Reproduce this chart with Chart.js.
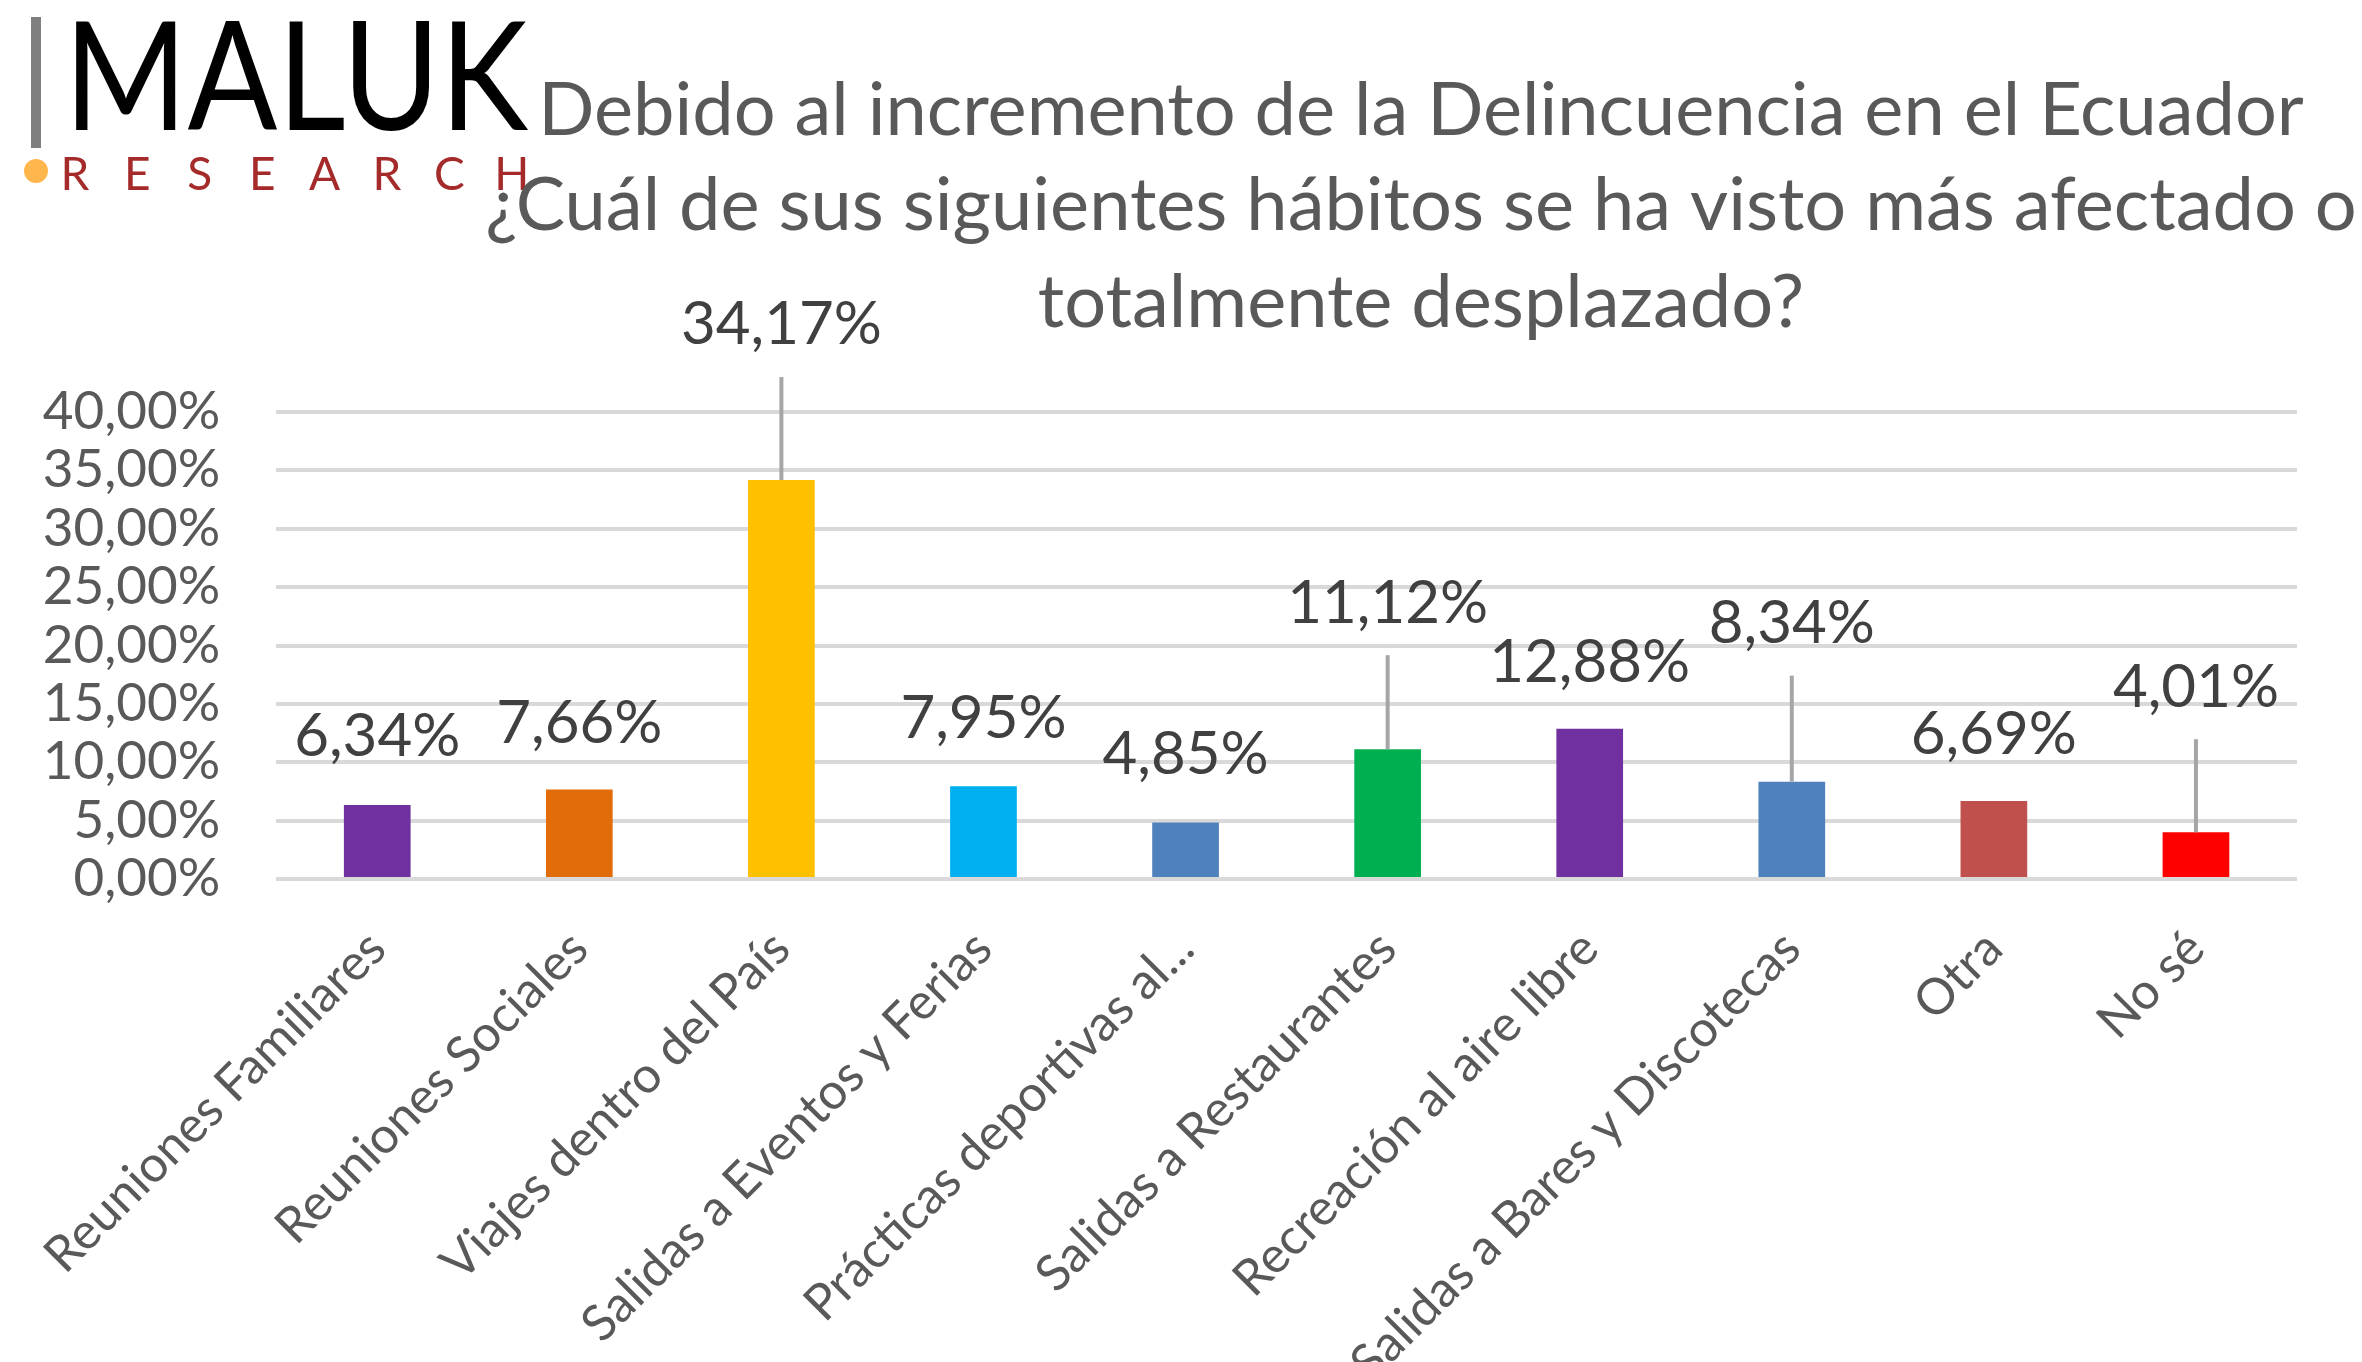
<!DOCTYPE html>
<html>
<head>
<meta charset="utf-8">
<script src="https://cdn.jsdelivr.net/npm/chart.js@4/dist/chart.umd.min.js"></script>
<style>
  html, body { margin: 0; padding: 0; background: #ffffff; }
  #wrap { width: 2362px; height: 1362px; position: relative; }
</style>
</head>
<body>
<div id="wrap"><canvas id="chart1" width="2362" height="1362"></canvas></div>
<script>
// categories and values
var categories = [
    "Reuniones Familiares",
    "Reuniones Sociales",
    "Viajes dentro del País",
    "Salidas a Eventos y Ferias",
    "Prácticas deportivas al...",
    "Salidas a Restaurantes",
    "Recreación al aire libre",
    "Salidas a Bares y Discotecas",
    "Otra",
    "No sé"
];
var values = [6.34, 7.66, 34.17, 7.95, 4.85, 11.12, 12.88, 8.34, 6.69, 4.01];
var barColors = ["#7030A0", "#E36C0A", "#FFC000", "#00B0F0", "#4F81BD", "#00B050", "#7030A0", "#4F81BD", "#C0504D", "#FF0000"];

// y axis ticks
var yMin = 0;
var yMax = 40;
var yStep = 5;

var titleLines = [
    "Debido al incremento de la Delincuencia en el Ecuador",
    "¿Cuál de sus siguientes hábitos se ha visto más afectado o",
    "totalmente desplazado?"
];

// how far above the bar top each value label sits (px), long ones get a leader line
var labelLift = [68, 66, 155, 68, 68, 146, 66, 158, 66, 145];

var textColor = "#595959";
var labelColor = "#404040";
var fontName = "Lato, 'Open Sans', sans-serif";

function pct(v) {
    return v.toFixed(2).replace(".", ",") + "%";
}

// logo + title
var headerPlugin = {
    id: "header",
    beforeDraw: function (chart) {
        var ctx = chart.ctx;
        ctx.save();
        ctx.fillStyle = "#ffffff";
        ctx.fillRect(0, 0, chart.width, chart.height);

        // logo bar
        ctx.fillStyle = "#7f7f7f";
        ctx.fillRect(31, 17, 10, 131);

        // MALUK
        ctx.fillStyle = "#000000";
        ctx.font = "400 152px " + fontName;
        ctx.textBaseline = "alphabetic";
        ctx.textAlign = "left";
        var w = ctx.measureText("MALUK").width;
        ctx.translate(64, 130);
        ctx.scale(464 / w, 1);
        ctx.fillText("MALUK", 0, 0);
        ctx.setTransform(1, 0, 0, 1, 0, 0);

        // dot
        ctx.fillStyle = "#FFB74D";
        ctx.beginPath();
        ctx.arc(36, 171, 12, 0, Math.PI * 2);
        ctx.fill();

        // RESEARCH
        ctx.fillStyle = "#A52A2A";
        ctx.font = "400 46px " + fontName;
        ctx.textAlign = "center";
        var word = "RESEARCH";
        for (var i = 0; i < word.length; i++) {
            ctx.fillText(word[i], 75 + i * 62.4, 190);
        }

        // title
        ctx.fillStyle = textColor;
        ctx.font = "400 74px " + fontName;
        ctx.textAlign = "center";
        var baselines = [135, 230, 327];
        titleLines.forEach(function (line, k) {
            ctx.fillText(line, 1421, baselines[k]);
        });
        ctx.restore();
    }
};

// value labels with leader lines
var barLabelsPlugin = {
    id: "barLabels",
    afterDatasetsDraw: function (chart) {
        var ctx = chart.ctx;
        var meta = chart.getDatasetMeta(0);
        ctx.save();
        ctx.font = "400 60px " + fontName;
        ctx.textAlign = "center";
        ctx.textBaseline = "middle";
        meta.data.forEach(function (bar, i) {
            var lift = labelLift[i];
            var ly = bar.y - lift;
            if (lift > 100) {
                ctx.strokeStyle = "#A6A6A6";
                ctx.lineWidth = 4;
                ctx.beginPath();
                ctx.moveTo(bar.x, ly + 52);
                ctx.lineTo(bar.x, bar.y);
                ctx.stroke();
            }
            ctx.fillStyle = labelColor;
            ctx.fillText(pct(values[i]), bar.x, ly);
        });
        ctx.restore();
    }
};

var ctx = document.getElementById("chart1").getContext("2d");
var chart1 = new Chart(ctx, {
    type: "bar",
    data: {
        labels: categories,
        datasets: [{
            data: values,
            backgroundColor: barColors,
            borderWidth: 0,
            barPercentage: 0.33,
            categoryPercentage: 1
        }]
    },
    options: {
        responsive: false,
        animation: false,
        layout: { padding: { top: 412, right: 65, left: 0, bottom: 0 } },
        plugins: {
            legend: { display: false },
            title: { display: false },
            tooltip: { enabled: false }
        },
        scales: {
            x: {
                grid: { display: false, drawTicks: false },
                border: { display: false },
                afterFit: function (scale) { scale.height = 1362 - 879; },
                ticks: {
                    autoSkip: false,
                    maxRotation: 45,
                    minRotation: 45,
                    padding: 40,
                    color: textColor,
                    font: { family: fontName, size: 50 }
                }
            },
            y: {
                min: yMin,
                max: yMax,
                grid: { color: "#D9D9D9", lineWidth: 4, drawTicks: false },
                border: { display: false },
                afterFit: function (scale) { scale.width = 274; },
                ticks: {
                    stepSize: yStep,
                    autoSkip: false,
                    padding: 56,
                    color: textColor,
                    font: { family: fontName, size: 53 },
                    callback: function (v) { return pct(v); }
                }
            }
        }
    },
    plugins: [headerPlugin, barLabelsPlugin]
});
</script>
</body>
</html>
